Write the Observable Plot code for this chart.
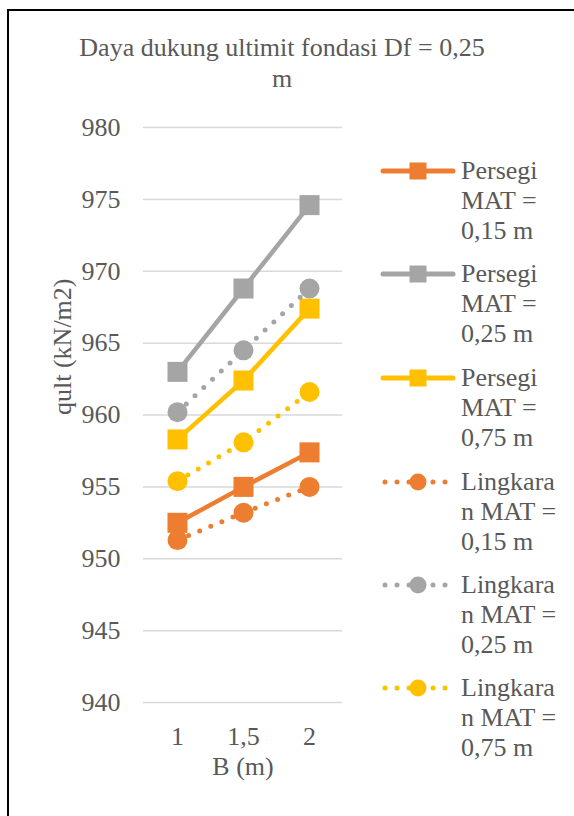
<!DOCTYPE html>
<html>
<head>
<meta charset="utf-8">
<script src="https://cdn.jsdelivr.net/npm/d3@7"></script>
<script src="https://cdn.jsdelivr.net/npm/@observablehq/plot@0.6"></script>
</head>
<body style="margin:0;padding:0;background:#fff;width:574px;height:816px;position:relative;overflow:hidden;color:#595959;">
<div id="frame" style="position:absolute;left:7px;top:9px;width:700px;height:1000px;border:2px solid #000;box-sizing:border-box;"></div>
<div id="chart" style="position:absolute;left:0;top:0;"></div>
<div id="title" style="position:absolute;left:0;width:564px;top:32px;text-align:center;font-size:26px;line-height:31px;">Daya dukung ultimit fondasi Df = 0,25<br>m</div>
<div id="legend"></div>
<script>
// ---- Data ----
const B = ["1", "1,5", "2"];
const persegi015 = [952.5, 955.0, 957.4];
const persegi025 = [963.0, 968.8, 974.6];
const persegi075 = [958.3, 962.4, 967.4];
const lingkaran015 = [951.3, 953.2, 955.0];
const lingkaran025 = [960.2, 964.5, 968.8];
const lingkaran075 = [955.4, 958.1, 961.6];
const yTicks = [940, 945, 950, 955, 960, 965, 970, 975, 980];
const seriesNames = [
  "Persegi MAT = 0,15 m", "Persegi MAT = 0,25 m", "Persegi MAT = 0,75 m",
  "Lingkaran MAT = 0,15 m", "Lingkaran MAT = 0,25 m", "Lingkaran MAT = 0,75 m"
];
const legendLines = [
  ["Persegi", "MAT =", "0,15 m"], ["Persegi", "MAT =", "0,25 m"], ["Persegi", "MAT =", "0,75 m"],
  ["Lingkara", "n MAT =", "0,15 m"], ["Lingkara", "n MAT =", "0,25 m"], ["Lingkara", "n MAT =", "0,75 m"]
];
const seriesValues = [persegi015, persegi025, persegi075, lingkaran015, lingkaran025, lingkaran075];
const colors = ["#ED7D31", "#A5A5A5", "#FFC000", "#ED7D31", "#A5A5A5", "#FFC000"];
const shapes = ["square", "square", "square", "circle", "circle", "circle"];

const FONT = "'Liberation Serif', 'Times New Roman', serif";
document.body.style.fontFamily = FONT;
document.getElementById("title").style.fontFamily = FONT;

// tidy rows
const rows = [];
seriesValues.forEach((vals, i) => {
  vals.forEach((v, j) => rows.push({series: seriesNames[i], idx: i, B: B[j], q: v,
    color: colors[i], shape: shapes[i]}));
});
const squares = rows.filter(d => d.shape === "square");
const circles = rows.filter(d => d.shape === "circle");

const textColor = "#595959";

const chart = Plot.plot({
  width: 574,
  height: 816,
  marginLeft: 143,
  marginRight: 232,
  marginTop: 127,
  marginBottom: 114,
  style: {fontFamily: FONT, fontSize: "26px", color: textColor, background: "transparent"},
  x: {type: "point", domain: B, padding: 0.5},
  y: {domain: [940, 980]},
  marks: [
    Plot.gridY(yTicks, {stroke: "#d9d9d9", strokeOpacity: 1, strokeWidth: 1.5}),
    Plot.axisY(yTicks, {tickSize: 0, tickPadding: 23, label: null, fill: textColor}),
    Plot.axisX(B, {tickSize: 0, tickPadding: 24, label: null, fill: textColor}),
    Plot.text(["B (m)"], {frameAnchor: "bottom", dy: 72, fill: textColor}),
    Plot.text(["qult (kN/m2)"], {frameAnchor: "left", rotate: -90, dx: -81, fill: textColor}),
    Plot.line(squares, {x: "B", y: "q", z: "series", stroke: "color", strokeWidth: 4.5, strokeLinejoin: "round", strokeLinecap: "round"}),
    Plot.dot(squares, {x: "B", y: "q", symbol: "square", r: 11.3, fill: "color", stroke: null}),
    Plot.line(circles, {x: "B", y: "q", z: "series", stroke: "color", strokeWidth: 5, strokeDasharray: "0 12", strokeLinecap: "round"}),
    Plot.dot(circles, {x: "B", y: "q", symbol: "circle", r: 10, fill: "color", stroke: null})
  ]
});
chart.style.fontFamily = FONT;
chart.querySelectorAll("text").forEach(t => { t.style.fontFamily = FONT; t.style.fontSize = "26px"; });
document.getElementById("chart").appendChild(chart);

// ---- Legend ----
const legendY = [171, 274, 378, 482, 585, 688];
const legend = document.getElementById("legend");
const ns = "http://www.w3.org/2000/svg";
seriesNames.forEach((name, i) => {
  const svg = document.createElementNS(ns, "svg");
  svg.setAttribute("width", 80);
  svg.setAttribute("height", 30);
  svg.style.position = "absolute";
  svg.style.left = "378px";
  svg.style.top = (legendY[i] - 15) + "px";
  const line = document.createElementNS(ns, "line");
  if (shapes[i] === "square") {
    line.setAttribute("x1", 5); line.setAttribute("x2", 75);
  } else {
    line.setAttribute("x1", 7); line.setAttribute("x2", 69);
    line.setAttribute("stroke-dasharray", "0 12");
  }
  line.setAttribute("stroke-width", 5);
  line.setAttribute("y1", 15); line.setAttribute("y2", 15);
  line.setAttribute("stroke", colors[i]);
  line.setAttribute("stroke-linecap", "round");
  svg.appendChild(line);
  if (shapes[i] === "square") {
    const r = document.createElementNS(ns, "rect");
    r.setAttribute("x", 40 - 8.5); r.setAttribute("y", 15 - 8.5);
    r.setAttribute("width", 17); r.setAttribute("height", 17);
    r.setAttribute("fill", colors[i]);
    svg.appendChild(r);
  } else {
    const c = document.createElementNS(ns, "circle");
    c.setAttribute("cx", 40); c.setAttribute("cy", 15); c.setAttribute("r", 8.5);
    c.setAttribute("fill", colors[i]);
    svg.appendChild(c);
  }
  legend.appendChild(svg);
  const t = document.createElement("div");
  t.style.position = "absolute";
  t.style.left = "461px";
  t.style.top = (legendY[i] - 15) + "px";
  t.style.fontFamily = FONT;
  t.style.fontSize = "26px";
  t.style.lineHeight = "30px";
  t.style.whiteSpace = "nowrap";
  t.innerHTML = legendLines[i].join("<br>");
  legend.appendChild(t);
});
</script>
</body>
</html>
